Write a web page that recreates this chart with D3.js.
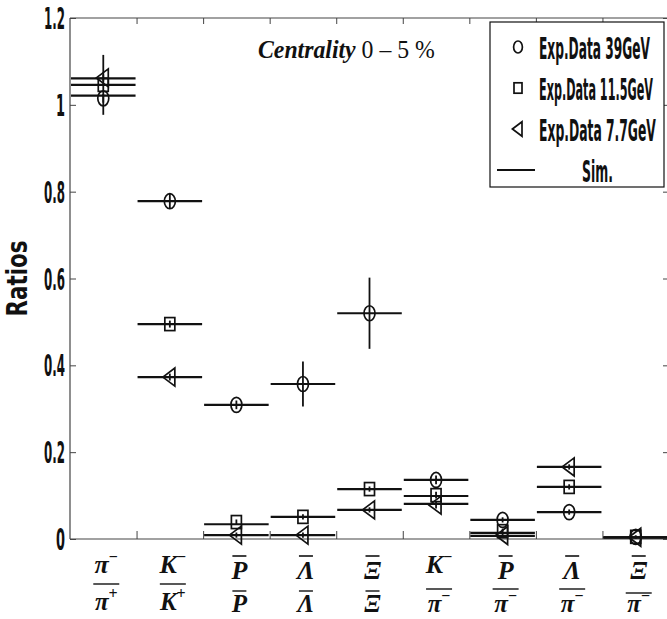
<!DOCTYPE html>
<html><head><meta charset="utf-8">
<script src="https://cdn.jsdelivr.net/npm/d3@7"></script>
<style>body{margin:0;background:#fff;overflow:hidden} svg{display:block}</style>
</head><body>
<script>
// ---- data ----
const categories = ["π-/π+","K-/K+","Pbar/P","Λbar/Λ","Ξbar/Ξ","K-/π-","Pbar/π-","Λbar/π-","Ξbar/π-"];
const exp39  = [1.015, 0.778, 0.309, 0.357, 0.520, 0.136, 0.044, 0.062, 0.005];
const err39  = [0.010, 0.018, 0.010, 0.052, 0.082, 0.010, 0.006, 0.006, 0.003];
const exp115 = [1.046, 0.495, 0.039, 0.051, 0.115, 0.101, 0.018, 0.120, 0.005];
const err115 = [0.069, 0.008, 0.006, 0.006, 0.006, 0.008, 0.006, 0.006, 0.003];
const exp77  = [1.062, 0.373, 0.009, 0.009, 0.067, 0.078, 0.008, 0.166, 0.004];
const err77  = [0.008, 0.008, 0.006, 0.006, 0.006, 0.008, 0.006, 0.006, 0.003];
const sim39  = [1.021, 0.778, 0.309, 0.357, 0.520, 0.136, 0.044, 0.062, 0.004];
const sim115 = [1.046, 0.495, 0.034, 0.051, 0.115, 0.099, 0.014, 0.120, 0.004];
const sim77  = [1.061, 0.373, 0.009, 0.009, 0.067, 0.081, 0.007, 0.166, 0.003];
const yTicks = [0, 0.2, 0.4, 0.6, 0.8, 1, 1.2];
const yTickLabels = ["0","0.2","0.4","0.6","0.8","1","1.2"];
const numText = ["π","K","P","Λ","Ξ","K","P","Λ","Ξ"];
const numSup  = ["−","−","","","","−","","",""];
const numBar  = [false,false,true,true,true,false,true,true,true];
const denText = ["π","K","P","Λ","Ξ","π","π","π","π"];
const denSup  = ["+","+","","","","−","−","−","−"];
const legendLabels = ["Exp.Data 39GeV","Exp.Data 11.5GeV","Exp.Data 7.7GeV","Sim."];
const titleMain = "Centrality";
const titleRest = "0 – 5 %";
const yTitle = "Ratios";

// ---- layout ----
const W = 667, H = 619;
const svg = d3.select("body").append("svg").attr("width", W).attr("height", H);
const x = d3.scaleLinear().domain([0.5, 9.5]).range([70, 669]);
const y = d3.scaleLinear().domain([0, 1.2]).range([539, 18]);
const ink = "#111";
const axisCol = "#444";
const condFont = "'Liberation Sans Narrow','DejaVu Sans Condensed','Roboto',sans-serif";
const serifFont = "'Liberation Serif','DejaVu Serif',serif";

// place text at (px,py) and squeeze horizontally to a given width
function fitText(parent, str, px, py, width, opts) {
  const g = parent.append("g");
  const t = g.append("text").attr("x", 0).attr("y", 0)
    .attr("text-anchor", opts.anchor || "start")
    .attr("font-family", opts.family).attr("font-weight", opts.weight || "normal")
    .attr("font-style", opts.style || "normal")
    .attr("font-size", opts.size).attr("fill", ink).text(str);
  const w = t.node().getComputedTextLength();
  const s = w > 0 ? width / w : 1;
  g.attr("transform", `translate(${px},${py}) rotate(${opts.rotate || 0}) scale(${s},1)`);
  return t;
}

// frame
const fr = svg.append("g").attr("stroke", axisCol).attr("stroke-width", 1.2).attr("fill","none");
fr.append("line").attr("x1", x(0.5)).attr("x2", x(9.5)).attr("y1", y(1.2)).attr("y2", y(1.2));
fr.append("line").attr("x1", x(0.5)).attr("x2", x(9.5)).attr("y1", y(0)).attr("y2", y(0));
fr.append("line").attr("x1", x(0.5)).attr("x2", x(0.5)).attr("y1", y(0)).attr("y2", y(1.2));
fr.append("line").attr("x1", x(9.5)).attr("x2", x(9.5)).attr("y1", y(0)).attr("y2", y(1.2));

// y ticks (inward) on left and right
svg.append("g").attr("transform", `translate(${x(0.5)},0)`)
  .call(d3.axisRight(y).tickValues(yTicks).tickSize(6).tickFormat(""))
  .call(g => { g.select(".domain").remove(); g.selectAll("line").attr("stroke", axisCol); });
svg.append("g").attr("transform", `translate(${x(9.5)},0)`)
  .call(d3.axisLeft(y).tickValues(yTicks).tickSize(6).tickFormat(""))
  .call(g => { g.select(".domain").remove(); g.selectAll("line").attr("stroke", axisCol); });
// x ticks (between categories) top and bottom
const xTickVals = d3.range(1.5, 9, 1);
svg.append("g").attr("transform", `translate(0,${y(0)})`)
  .call(d3.axisTop(x).tickValues(xTickVals).tickSize(8).tickFormat(""))
  .call(g => { g.select(".domain").remove(); g.selectAll("line").attr("stroke", axisCol); });
svg.append("g").attr("transform", `translate(0,${y(1.2)})`)
  .call(d3.axisBottom(x).tickValues(xTickVals).tickSize(6).tickFormat(""))
  .call(g => { g.select(".domain").remove(); g.selectAll("line").attr("stroke", axisCol); });

// y tick labels
const yl = svg.append("g");
yTicks.forEach((d, i) => {
  fitText(yl, yTickLabels[i], 65, y(d) + 11, yTickLabels[i].length === 1 ? 9 : 21,
    {anchor: "end", family: condFont, weight: "bold", size: 31});
});

// y title
fitText(svg, yTitle, 27, y(0.6), 76, {anchor: "middle", family: condFont, weight: "bold", size: 28, rotate: -90});

// x labels (fractions)
const xl = svg.append("g").attr("font-family", serifFont).attr("font-style", "italic")
  .attr("font-weight", "bold").attr("fill", ink);
categories.forEach((c, i) => {
  const cx = x(i + 1) + 3;
  const longBar = !(i >= 2 && i <= 4);
  const numBase = numBar[i] ? 579 : 573;
  const barY = i < 2 ? 584 : (i <= 4 ? 591 : (i === 8 ? 593 : 589));
  const denBase = i < 2 ? 610 : 612;
  const nt = xl.append("text").attr("x", cx).attr("y", numBase).attr("text-anchor", "middle").attr("font-size", 26);
  nt.append("tspan").text(numText[i]);
  if (numSup[i]) nt.append("tspan").attr("font-size", 16).attr("dy", -11).attr("font-style","normal").text(numSup[i]);
  if (numBar[i]) xl.append("line").attr("x1", cx - 7).attr("x2", cx + 7).attr("y1", 556).attr("y2", 556)
      .attr("stroke", ink).attr("stroke-width", 1.6);
  const bw = longBar ? 13 : 7;
  xl.append("line").attr("x1", cx - bw).attr("x2", cx + bw).attr("y1", barY).attr("y2", barY)
    .attr("stroke", ink).attr("stroke-width", 1.4);
  const dt = xl.append("text").attr("x", cx).attr("y", denBase).attr("text-anchor", "middle").attr("font-size", 25);
  dt.append("tspan").text(denText[i]);
  if (denSup[i]) dt.append("tspan").attr("font-size", 16).attr("dy", -11).attr("font-style","normal").text(denSup[i]);
});

// title
const tg = svg.append("g");
const tt = tg.append("text").attr("x", 0).attr("y", 0)
  .attr("font-family", serifFont).attr("font-size", 25).attr("fill", ink);
tt.append("tspan").attr("font-style", "italic").attr("font-weight", "bold").text(titleMain);
tt.append("tspan").text(" " + titleRest);
const tw = tt.node().getComputedTextLength();
tg.attr("transform", `translate(258,58) scale(${177 / tw},1)`);

// series
const series = [
  {vals: exp39, err: err39, sim: sim39, shape: "circle"},
  {vals: exp115, err: err115, sim: sim115, shape: "square"},
  {vals: exp77, err: err77, sim: sim77, shape: "triangle"}
];
const half = (x(2) - x(1)) / 2;
const plot = svg.append("g");
series.forEach(s => {
  plot.append("g").selectAll("line").data(s.sim).join("line")
    .attr("x1", (d,i) => x(i + 1) - half + 1).attr("x2", (d,i) => x(i + 1) + half - 1)
    .attr("y1", d => y(d)).attr("y2", d => y(d))
    .attr("stroke", ink).attr("stroke-width", 2.2);
});
series.forEach(s => {
  plot.append("g").selectAll("line").data(s.vals).join("line")
    .attr("x1", (d,i) => x(i + 1)).attr("x2", (d,i) => x(i + 1))
    .attr("y1", (d,i) => y(d - s.err[i])).attr("y2", (d,i) => y(d + s.err[i]))
    .attr("stroke", ink).attr("stroke-width", 1.8);
});
function marker(g, shape, cx, cy, k) {
  k = k || 1;
  if (shape === "circle") {
    g.append("ellipse").attr("cx", cx).attr("cy", cy).attr("rx", 5.5 * k).attr("ry", 7.5 * k);
  } else if (shape === "square") {
    g.append("rect").attr("x", cx - 5 * k).attr("y", cy - 6.5 * k).attr("width", 10 * k).attr("height", 13 * k);
  } else {
    g.append("path").attr("d", `M${cx - 7 * k},${cy} L${cx + 5 * k},${cy - 9 * k} L${cx + 5 * k},${cy + 9 * k} Z`);
  }
}
series.forEach(s => {
  const g = plot.append("g").attr("fill", "none").attr("stroke", ink).attr("stroke-width", 1.7);
  s.vals.forEach((v, i) => marker(g, s.shape, x(i + 1), y(v)));
});

// legend
const lg = svg.append("g");
lg.append("rect").attr("x", 490).attr("y", 22).attr("width", 174).attr("height", 165)
  .attr("fill", "#fff").attr("stroke", ink).attr("stroke-width", 1.2);
const rows = [47, 88, 129, 170];
const shapes = ["circle","square","triangle"];
const lgm = lg.append("g").attr("fill", "none").attr("stroke", ink).attr("stroke-width", 1.7);
shapes.forEach((s, i) => marker(lgm, s, 518, rows[i], 0.8));
lg.append("line").attr("x1", 497).attr("x2", 535).attr("y1", rows[3]).attr("y2", rows[3])
  .attr("stroke", ink).attr("stroke-width", 2.2);
const lw = [111, 114, 117, 31];
legendLabels.forEach((t, i) => {
  fitText(lg, t, i < 3 ? 539 : 582, rows[i] + 12, lw[i],
    {family: condFont, weight: "bold", size: 30});
});
</script>
</body></html>
